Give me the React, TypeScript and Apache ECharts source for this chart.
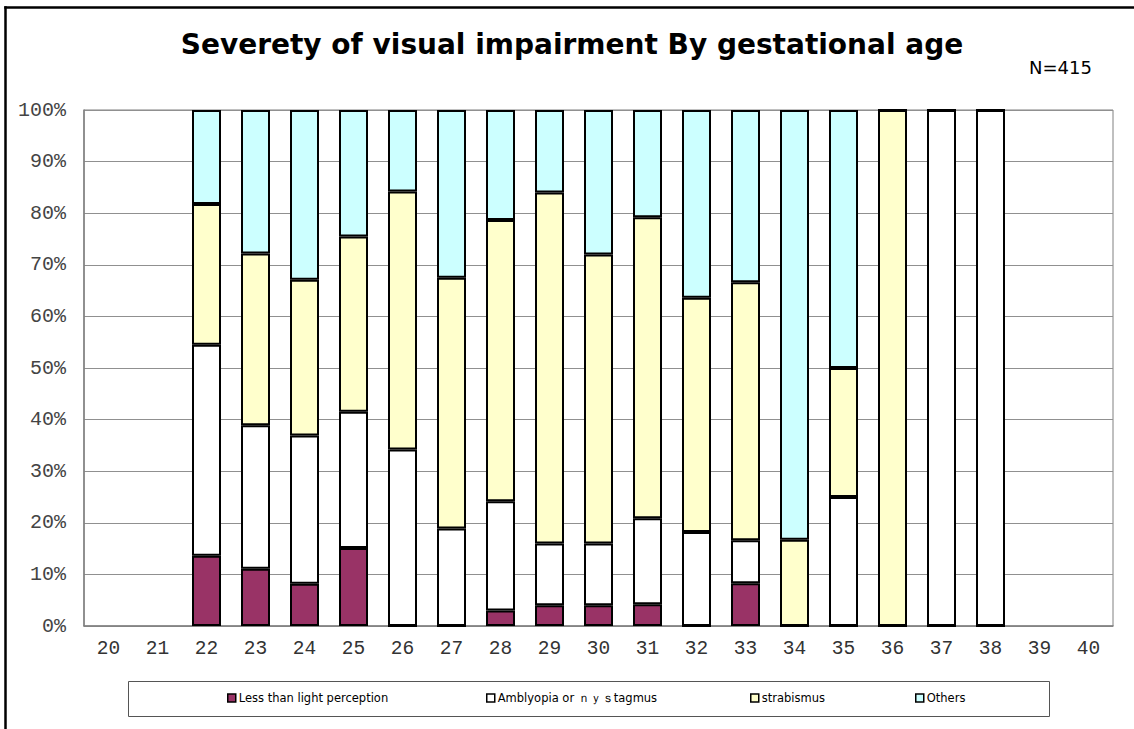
import React, { useEffect, useRef } from "react";
import * as echarts from "echarts";

const categories = ["20","21","22","23","24","25","26","27","28","29","30","31","32","33","34","35","36","37","38","39","40"];
const yTicks = [0, 10, 20, 30, 40, 50, 60, 70, 80, 90, 100];
const seriesNames = ["Less than light perception", "Amblyopia or ｎｙｓtagmus", "strabismus", "Others"];
const lessThanLight = [null, null, 13.6, 11.1, 8.2, 15.1, 0, 0, 3.0, 4.0, 4.0, 4.2, 0, 8.3, 0, 0, 0, 0, 0, null, null];
const amblyopia = [null, null, 40.9, 27.8, 28.7, 26.4, 34.2, 18.9, 21.2, 12.0, 12.0, 16.7, 18.2, 8.3, 0, 25.0, 0, 100, 100, null, null];
const strabismus = [null, null, 27.3, 33.3, 30.2, 34.0, 50.0, 48.6, 54.5, 68.0, 56.0, 58.3, 45.4, 50.0, 16.7, 25.0, 100, 0, 0, null, null];
const others = [null, null, 18.2, 27.8, 32.9, 24.5, 15.8, 32.5, 21.3, 16.0, 28.0, 20.8, 36.4, 33.4, 83.3, 50.0, 0, 0, 0, null, null];
const colors = ["#993366", "#FFFFFF", "#FFFFCC", "#CCFFFF"];
const titleText = "Severety of visual impairment By gestational age";
const noteText = "N=415";

export default function App() {
  const ref = useRef<HTMLDivElement>(null);
  useEffect(() => {
    if (!ref.current) return;
    const chart = echarts.init(ref.current, null, { renderer: "svg" });
    const datasets = [lessThanLight, amblyopia, strabismus, others];
    const legendLefts = [227, 486, 750, 915];
    chart.setOption({
      animation: false,
      backgroundColor: "#fff",
      title: {
        text: titleText,
        left: 567,
        textAlign: "center",
        top: 25,
        textStyle: { fontFamily: "DejaVu Sans", fontWeight: "bold", fontSize: 28, color: "#000" },
      },
      graphic: [
        {
          type: "line",
          shape: { x1: 5.5, y1: 6.25, x2: 5.5, y2: 729 },
          style: { stroke: "#000", lineWidth: 2.5 },
          silent: true,
        },
        {
          type: "line",
          shape: { x1: 4.25, y1: 7.5, x2: 1134, y2: 7.5 },
          style: { stroke: "#000", lineWidth: 2.5 },
          silent: true,
        },
        {
          type: "text",
          x: 1029,
          y: 58,
          style: { text: noteText, fontFamily: "DejaVu Sans", fontSize: 18, fill: "#000" },
        },
        {
          type: "rect",
          shape: { x: 128.5, y: 681.5, width: 921, height: 35 },
          style: { fill: "none", stroke: "#555", lineWidth: 1 },
          silent: true,
        },
      ],
      legend: seriesNames.map((n, i) => ({
        data: [n],
        left: legendLefts[i],
        top: 692,
        padding: 0,
        itemWidth: 8,
        itemHeight: 8,
        itemGap: 0,
        icon: "rect",
        itemStyle: { borderColor: "#000", borderWidth: 1.5 },
        textStyle: { fontFamily: "DejaVu Sans", fontSize: 11.5, color: "#000", padding: [0, 0, 0, -2] },
      })),
      grid: {
        left: 84,
        right: 21,
        top: 110,
        bottom: 103,
        show: true,
        borderColor: "#808080",
        borderWidth: 1,
        backgroundColor: "#fff",
      },
      xAxis: {
        type: "category",
        data: categories,
        axisLine: { lineStyle: { color: "#808080", width: 1.5 } },
        axisTick: { inside: true, length: 4, lineStyle: { color: "#444" } },
        axisLabel: { fontFamily: "Liberation Mono", fontSize: 19.5, color: "#333", margin: 13 },
      },
      yAxis: {
        type: "value",
        min: 0,
        max: 100,
        interval: 10,
        axisLine: { show: true, lineStyle: { color: "#808080", width: 1.5 } },
        axisTick: { show: false },
        splitLine: { lineStyle: { color: "#909090", width: 1 } },
        axisLabel: {
          fontFamily: "Liberation Mono",
          fontSize: 20,
          color: "#444",
          margin: 18,
          formatter: (v: number) => (yTicks.includes(v) ? v + "%" : ""),
        },
      },
      series: seriesNames.map((n, i) => ({
        name: n,
        type: "bar",
        stack: "total",
        barWidth: 29,
        data: datasets[i],
        itemStyle: { color: colors[i], borderColor: "#000", borderWidth: 2 },
      })),
    });
    return () => chart.dispose();
  }, []);
  return <div ref={ref} style={{ position: "absolute", left: 0, top: 0, width: 1134, height: 729 }} />;
}
